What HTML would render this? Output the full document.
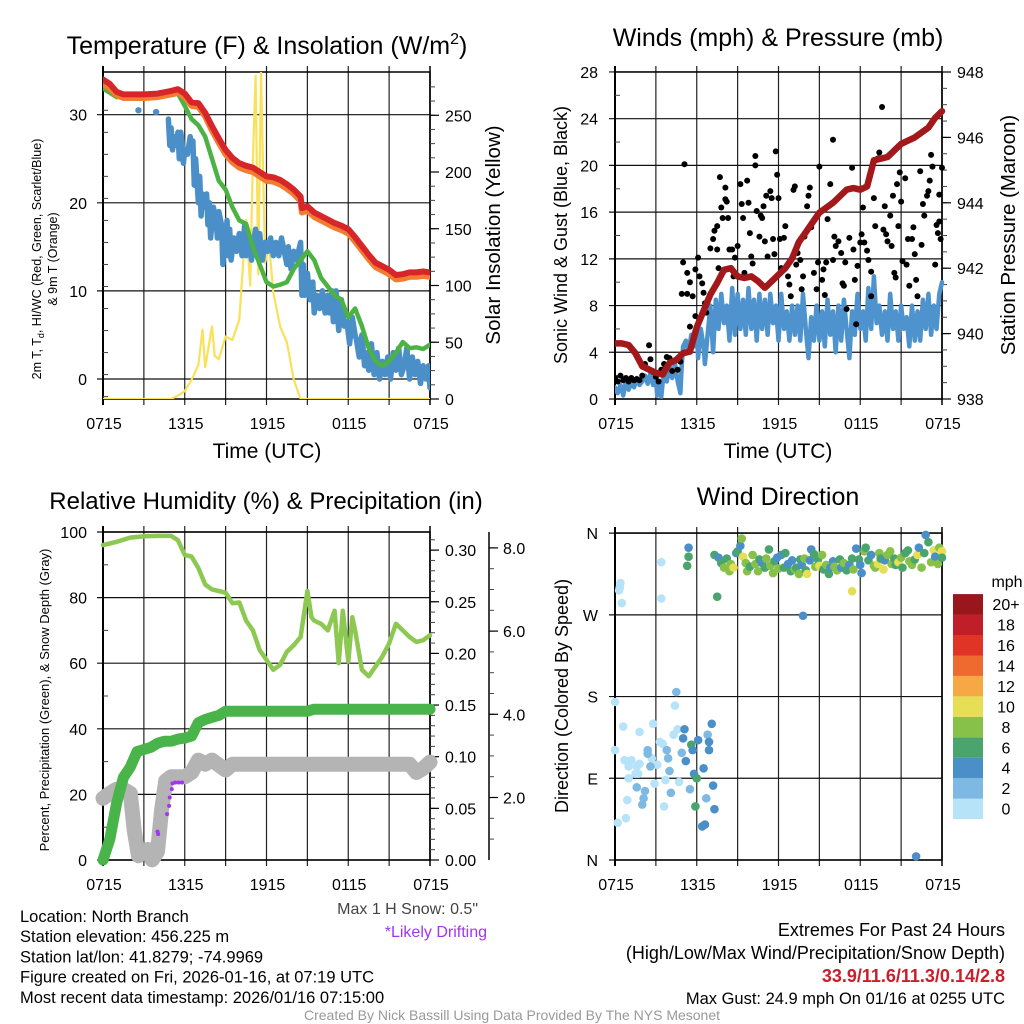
<!DOCTYPE html>
<html><head><meta charset="utf-8">
<style>
html,body{margin:0;padding:0;background:#fff;}
svg{display:block;font-family:"Liberation Sans",Arial,sans-serif;}
</style></head>
<body>
<svg id="chart" width="1024" height="1024" viewBox="0 0 1024 1024" xmlns="http://www.w3.org/2000/svg"></svg>
<script>
// ---------- DATA ----------
const tempHours = [0,0.5,1,1.5,2,3,4,5,5.5,6,6.5,7,7.5,8,8.5,9,9.5,10,10.5,11,11.5,12,12.5,13,13.5,14,14.5,14.6,15,15.5,16,16.5,17,17.5,18,18.5,19,19.5,20,20.5,21,21.5,22,22.5,23,23.5,24];
const tempRed = [34,33.5,32.6,32.3,32.3,32.3,32.4,32.7,32.9,32.4,31.4,31.3,30.2,28.7,27.3,26,25.1,24.5,24.2,24,23.5,23,22.9,22.6,22.1,21.5,20.7,19.4,19.6,18.9,18.5,18.1,17.7,17.4,17,16.1,15.1,14.1,13.2,12.8,12.4,11.8,11.9,12.1,12.1,12.2,12.1];
const tempOrange = [33.5,33,32.2,31.9,31.9,31.9,32,32.3,32.5,32,31,30.9,29.8,28.2,26.8,25.5,24.6,24,23.7,23.5,23,22.5,22.4,22.1,21.6,21,20.2,18.9,19.1,18.4,18,17.6,17.2,16.9,16.5,15.6,14.6,13.6,12.7,12.3,11.9,11.3,11.4,11.6,11.6,11.7,11.6];
const greenHours = [0,1,2,3,4,5,5.5,6,6.5,7,7.5,8,8.5,9,9.5,10,10.5,11,11.5,12,12.5,13,13.5,14,14.5,15,15.5,16,16.5,17,17.5,18,18.5,19,19.5,20,20.5,21,21.5,22,22.5,23,23.5,24];
const tempGreen = [33,32,32.1,32.1,32.1,32.2,32.4,31,29.5,28.8,27.5,25,22.5,21.5,19.5,18,17.6,15,13,11,10.5,10.7,11,12.5,13.5,14.5,13.5,11.5,10.5,9.5,9,7,8,6,3.5,2,1.5,2,3,4.2,3.5,3.6,3.4,3.9];
const blueHours = [4.8,4.9,5.0,5.1,5.2,5.4,5.5,5.6,5.7,5.8,5.9,6.0,6.2,6.4,6.5,6.6,6.7,6.8,7.0,7.1,7.2,7.3,7.4,7.6,7.7,7.8,7.9,8.1,8.3,8.4,8.5,8.7,8.8,8.9,9.0,9.1,9.2,9.3,9.4,9.6,9.8,10.0,10.2,10.4,10.5,10.7,10.9,11.0,11.2,11.4,11.5,11.7,11.9,12.1,12.3,12.5,12.7,12.9,13.1,13.3,13.5,13.6,13.8,14.0,14.2,14.5,14.6,14.7,14.8,15.0,15.2,15.4,15.5,15.7,15.9,16.1,16.3,16.5,16.6,16.8,16.9,17.1,17.3,17.5,17.7,17.9,18.1,18.3,18.5,18.6,18.8,19.0,19.2,19.4,19.5,19.7,19.9,20.1,20.3,20.5,20.7,20.9,21.1,21.3,21.5,21.7,21.9,22.1,22.3,22.5,22.7,22.9,23.1,23.3,23.5,23.7,23.9,24];
const tempBlue = [29.5,26.5,28.5,26,27.5,26.5,28,25,28,27,24.5,26,25.5,27.5,26,27,22,25,20,23,18.5,21,19.5,21,17.5,20,16,19.5,18,16,19,17.5,13,16,15,18,14,17,13.5,16,14.5,16.5,14,17.5,14,16,13.5,15,17,14,16.5,13.5,15.5,14.5,16,14,15.5,14,16,14.5,13,15,12.5,14.5,13.5,15.5,9.5,13,9.5,12,9,11,7.5,9.5,8,10,7.5,9.5,7.5,10,6.5,10,5.5,9,6,6.5,4,7,5,4.5,2.5,5,1.5,3,1,4,0.5,3,0,2,0.5,2.5,0,3,1,3.5,0.5,1.5,3.5,0,2.5,0.5,2,-0.5,1.5,0,1.5,-1];
const blueDotHours = [2.6,3.9];
const blueDotVals = [30.5,30.3];
const insolHours = [0,5,5.5,6,6.5,7,7.3,7.5,8,8.2,8.5,9,9.5,10,10.5,10.8,11,11.2,11.4,11.6,11.9,12.2,12.5,13,13.5,14,14.5,24];
const insolVals = [0,0,3,7,17,30,61,28,64,38,35,55,52,70,158,100,211,285,110,288,120,135,94,64,50,17,0,0];

const windHours = [0,0.2,0.4,0.6,0.8,1.0,1.2,1.4,1.6,1.8,2.0,2.2,2.4,2.6,2.8,3.0,3.1,3.3,3.4,3.6,3.8,4.0,4.2,4.4,4.6,4.8,4.9,5.0,5.2,5.4,5.6,5.8,6.0,6.1,6.3,6.5,6.6,6.8,7.0,7.2,7.4,7.6,7.8,8.0,8.2,8.4,8.6,8.8,9.0,9.2,9.4,9.6,9.8,10.0,10.2,10.4,10.6,10.8,11.0,11.2,11.4,11.6,11.8,12.0,12.2,12.4,12.6,12.8,13.0,13.2,13.4,13.6,13.8,14.0,14.2,14.4,14.6,14.8,15.0,15.2,15.4,15.6,15.8,16.0,16.2,16.4,16.6,16.8,17.0,17.2,17.4,17.6,17.8,18.0,18.2,18.4,18.6,18.8,19.0,19.2,19.4,19.6,19.8,20.0,20.2,20.4,20.6,20.8,21.0,21.2,21.4,21.6,21.8,22.0,22.2,22.4,22.6,22.8,23.0,23.2,23.4,23.6,23.8,24];
const windVals = [1,0.5,1.2,0.3,1.5,0.8,1.4,1.0,1.8,1.2,1.5,2.0,1.3,2.2,1.2,1.8,0.3,1.5,0.2,2.6,1.5,2.8,1.8,3.0,1.5,0.5,3,4.5,5,4,5.5,4.5,6,3.5,6,4.5,3,5.5,8,4,8.5,6,9,6.5,8,5,9.5,5.5,9,6,8.5,5.5,9.5,6,8.5,5,9,6,8.5,5.5,9,6.5,8,5,9,6,7.5,5,8,5.5,8,5,9,6,3.5,7,5,8,5,7.5,4.5,8.5,5.5,7.5,4,8,5,8.5,6,3.5,7.5,5.5,9,6,7.5,5,9.5,6,10.5,6.5,8,5.5,7.5,5,9,6,7.5,5,8,6,7,4.5,8,5,7.5,5,8.5,6,9,5.5,8,6,9,10];
const gustHours = [0.0,0.2,0.4,0.6,0.8,1.0,1.2,1.4,1.6,1.8,2.0,2.2,2.4,2.5,2.6,2.8,3.0,3.2,3.4,3.6,3.8,4.0,4.2,4.4,4.6,4.8,5.1,5.0,5.3,5.5,4.9,5.3,5.7,5.5,5.9,5.9,6.1,6.2,6.4,6.5,6.6,6.7,7.0,7.2,7.3,7.5,7.5,7.6,7.7,7.8,7.9,8.1,8.1,8.2,8.3,8.4,8.6,8.7,8.8,9.0,9.2,9.3,9.4,9.5,9.7,9.8,9.9,10.0,10.1,10.3,10.3,10.4,10.6,10.7,10.8,10.9,11.0,11.1,11.2,11.4,11.5,11.6,11.7,11.8,11.9,12.0,12.1,12.2,12.4,12.5,12.7,12.8,12.9,13.1,13.2,13.3,13.4,13.6,13.7,13.8,13.9,14.1,14.2,14.3,14.4,14.6,14.8,14.9,15.0,15.2,15.3,15.4,15.5,15.6,15.8,16.0,16.0,16.1,16.2,16.4,16.6,16.7,16.8,16.9,17.0,17.2,17.4,17.5,17.6,17.7,17.8,18.0,18.1,18.2,18.3,18.5,18.6,18.8,18.8,19.0,19.1,19.3,19.4,19.6,19.7,19.8,19.9,20.0,20.2,20.3,20.4,20.5,20.6,20.7,20.8,20.9,21.0,21.1,21.3,21.4,21.5,21.6,21.8,21.9,22.0,22.1,22.2,22.4,22.5,22.6,22.7,22.9,23.0,23.1,23.2,23.3,23.5,23.6,23.7,23.8,23.8,23.9,24.0];
const gustVals = [1.8,1.5,2,1.6,1.8,1.5,1.8,1.6,1.7,1.6,2.0,3.0,2.6,4.6,3.4,2.3,1.9,1.5,2.5,3.0,3.6,3.5,2.4,3.3,2.5,3.2,20.1,11.7,10.8,10,9,9,8.8,6.2,7.1,11.1,12.1,10.5,9.9,9.1,8.2,7.4,12.9,13.7,14.4,12.8,14.8,11.2,19,16.4,15.5,17.1,18.1,16.9,15.5,12.8,12.8,10.5,12.1,13.1,18.4,16.7,15.5,10.8,18.7,16.8,14.2,12.2,11.6,20.8,20,16.1,13.9,15.7,15.5,16.5,13.5,17.4,12.2,17.8,17.2,13.7,12.4,21.2,19.2,17.2,13.7,11.2,13.8,14.8,10.5,9.8,8.8,17.9,18.2,11.5,12.5,11.9,9.4,10.5,13.9,16.5,17.4,18.1,14.7,10.8,9.4,11.7,19.9,10.2,11.1,8.9,11.7,15.4,18.4,22.2,11.9,13.9,13.1,13.5,12.5,9.9,9.7,11.7,7.7,13.8,19.8,12.8,10.2,6.4,11.4,13.4,14.1,16.4,13.4,12.7,11.9,10.9,8.8,17.2,14.8,20.6,21.1,25,14.5,16.5,14.1,13.5,15.7,13.1,17.4,10.8,10.4,18.4,14.8,19.4,16.9,11.8,18.9,11.5,13.7,9.7,13.7,14.7,12.4,10.2,8.8,19.5,13.2,16.7,15.7,17.4,17.8,18.7,20.9,19.9,11.5,14.9,14.2,17.5,15.2,13.7,19.8];
const presHours = [0,0.5,1,1.5,2,2.5,3,3.5,4,4.5,5,5.5,6,6.5,7,7.5,8,8.5,9,9.5,10,10.5,11,11.5,12,12.5,13,13.5,14,14.5,15,15.5,16,16.5,17,17.5,18,18.5,19,19.5,20,20.5,21,21.5,22,22.5,23,23.5,24];
const presVals = [939.7,939.7,939.65,939.4,939.0,938.9,938.8,938.75,939.1,939.2,939.4,939.45,940.2,940.7,941.2,941.55,941.95,942.0,941.75,941.7,941.75,941.6,941.4,941.6,941.8,942.0,942.3,942.8,943.1,943.4,943.7,943.85,944.0,944.2,944.4,944.45,944.4,944.5,945.3,945.35,945.4,945.6,945.8,945.9,946.0,946.15,946.3,946.6,946.8];

const rhHours = [0,0.5,1,2,3,4,5,5.5,6,6.5,7,7.5,8,8.5,9,9.5,10,10.5,11,11.5,12,12.5,13,13.5,14,14.5,15,15.3,15.5,16,16.5,17,17.3,17.6,18,18.3,18.5,19,19.5,20,20.5,21,21.5,22,22.5,23,23.5,24];
const rhVals = [96,96.5,97,98.3,98.7,98.8,98.8,97.5,93,92.5,89,84,82.5,82,81.5,78.3,78.5,73,70,64,61,58,59.5,63.5,65.5,68,82,74,73,72,70,76,60,76,60.5,74,70,58,56,59,62,66,72,70,68,66.5,67,68.5];
const precipHours = [0,0.5,1,1.5,2,2.5,3,3.5,4,4.5,5,5.5,6,6.5,7,7.5,8,8.5,9,15,15.5,24];
const precipVals = [0,0.02,0.055,0.08,0.09,0.105,0.107,0.109,0.113,0.115,0.115,0.117,0.118,0.12,0.133,0.136,0.138,0.14,0.144,0.144,0.146,0.146];
const snowHours = [0,0.5,1,1.5,2,2.3,2.6,3,3.3,3.6,4,4.3,4.6,5,6,6.5,7,7.5,8,9,9.5,22.5,23,23.5,24];
const snowVals = [1.98,2.1,2.2,2.2,2.1,1.2,0.6,0.7,0.75,0.5,0.7,1.7,2.4,2.5,2.5,2.6,2.9,2.8,2.9,2.66,2.8,2.8,2.6,2.7,2.85];
const driftHours = [4.0,4.05,4.7,4.85,4.9,5.05,5.1,5.3,5.55,5.8];
const driftVals = [1.18,1.12,1.6,1.8,2.0,2.2,2.34,2.36,2.36,2.36];

const dirHours = [0.4,0.3,0.35,0.5,3.4,3.4,0.0,0.6,1.8,2.8,0.0,0.7,1.2,1.0,1.6,1.8,1.5,1.0,1.7,0.9,0.8,0.2,2.2,2.1,2.0,1.6,2.9,3.1,2.7,2.4,2.4,2.6,3.3,3.5,3.6,4.1,3.7,4.0,3.9,3.8,4.3,4.4,4.5,4.6,4.7,4.9,5.1,5.0,5.2,5.5,5.6,5.7,5.8,5.9,6.0,6.1,6.4,6.6,6.5,6.7,6.8,6.9,6.9,7.1,7.2,7.3,5.4,5.4,5.3,22.1,13.8,7.5,17.4,7.3,7.6,7.8,8.0,8.2,8.4,8.5,8.7,8.9,9.0,9.2,9.3,9.4,9.6,9.7,9.9,10.1,10.3,10.5,10.6,10.8,11.0,11.1,11.3,11.4,11.6,11.7,11.9,12.0,12.2,12.4,12.5,12.7,12.9,13.0,13.2,13.3,13.5,13.6,13.7,13.9,14.0,14.1,14.3,14.4,14.6,14.7,14.9,15.0,15.2,15.3,15.5,15.7,15.8,16.0,16.1,16.3,16.5,16.6,16.8,17.0,17.2,17.4,17.5,17.7,17.9,18.0,18.1,18.3,18.4,18.6,18.8,19.0,19.1,19.3,19.4,19.5,19.7,19.8,20.0,20.2,20.3,20.5,20.6,20.8,21.0,21.1,21.3,21.5,21.6,21.8,22.0,22.2,22.3,22.5,22.7,22.8,23.0,23.2,23.4,23.5,23.7,23.8,24.0,24.0];
const dirDegs = [305,297,300,283,328,288,174,147,141,150,121,110,110,103,103,106,95,90,95,66,46,41,76,68,61,80,84,105,112,121,117,103,130,128,59,74,88,98,112,121,138,170,185,144,86,118,144,134,109,78,127,121,95,59,90,132,37,39,101,68,138,130,121,150,82,56,344,334,324,4,269,290,296,336,333,327,322,332,318,326,322,338,340,346,354,334,327,318,323,336,326,318,331,327,322,332,342,324,316,329,333,321,336,322,338,326,318,330,320,322,315,331,325,332,319,315,330,342,337,323,331,324,336,320,325,315,322,329,323,319,331,322,327,319,325,332,320,343,331,325,316,340,344,330,336,324,322,326,338,332,320,330,336,340,326,332,325,328,333,322,338,341,329,325,331,336,344,322,338,358,350,328,341,334,326,344,340,333];
const dirSpeeds = [0,0,0,0,0,0,0,0,0,0,0,0,0,0,0,0,0,0,0,0,0,0,2,2,2,2,0,0,0,2,2,2,0,0,0,2,0,2,2,2,0,0,2,0,0,2,4,4,4,2,6,4,4,6,6,4,4,4,4,2,2,4,4,4,4,4,4,6,6,4,4,6,10,6,4,6,8,6,8,8,10,4,6,4,8,10,8,8,6,8,8,8,6,4,6,8,6,8,8,6,4,8,4,6,6,4,6,4,8,6,8,6,4,8,6,10,4,4,6,8,6,10,8,6,8,6,4,4,8,8,6,4,8,6,4,6,8,4,6,4,4,8,6,6,4,8,8,10,8,6,10,4,8,8,8,6,6,10,8,6,6,6,8,8,6,10,4,8,6,4,6,8,10,4,8,8,10,6];
const speedBins = ["0","2","4","6","8","10","12","14","16","18","20+"];
const speedColors = ["#b6e3f8","#7db9e3","#4a8fc8","#49a56d","#87c14a","#e6df55","#f6a845","#ee6a2f","#e03427","#c01f29","#98161c"];

const tempTicks = [0,10,20,30];
const insolTicks = [0,50,100,150,200,250];
const mphTicks = [0,4,8,12,16,20,24,28];
const presTicks = [938,940,942,944,946,948];
const pctTicks = [0,20,40,60,80,100];
const precipTicks = [0,0.05,0.10,0.15,0.20,0.25,0.30];
const snowTicks = [2,4,6,8];
const dirTicks = [0,90,180,270,360];
const dirLabels = ["N","E","S","W","N"];
const timeLabels = ["0715","1315","1915","0115","0715"];

// ---------- HELPERS ----------
const NS = "http://www.w3.org/2000/svg";
const svg = document.getElementById("chart");
const TK = 16; // tick font size
function mk(tag, attrs, parent, text){
  const e = document.createElementNS(NS, tag);
  for (const k in attrs) e.setAttribute(k, attrs[k]);
  if (text !== undefined) e.textContent = text;
  (parent||svg).appendChild(e);
  return e;
}
function grp(name){
  const g = mk("g", {});
  
  
  return g;
}
function txt(g, x, y, s, size, anchor, extra){
  const a = {x:x, y:y, "font-size":size, "text-anchor":anchor||"middle", fill:"#000"};
  if (extra) for (const k in extra) a[k]=extra[k];
  return mk("text", a, g, s);
}
function path(g, pts, stroke, w){
  let d = "";
  pts.forEach((p,i)=>{ d += (i? "L":"M") + p[0].toFixed(1) + "," + p[1].toFixed(1); });
  return mk("path", {d:d, fill:"none", stroke:stroke, "stroke-width":w, "stroke-linejoin":"round", "stroke-linecap":"round"}, g);
}
function makeX(x0,x1){ return h => x0 + h*(x1-x0)/24; }

function frame(g, x0, x1, y0, y1, hTicks, yfn){
  const X = makeX(x0,x1);
  for (let h=3; h<24; h+=3) mk("line",{x1:X(h),x2:X(h),y1:y0-6,y2:y1+6,stroke:"#222","stroke-width":1.2},g);
  hTicks.forEach(v=>{ const y=yfn(v); mk("line",{x1:x0-6,x2:x1,y1:y,y2:y,stroke:"#111","stroke-width":1.2},g); });
  mk("rect",{x:x0,y:y0,width:x1-x0,height:y1-y0,fill:"none",stroke:"#000","stroke-width":1.5},g);
  mk("line",{x1:x0,x2:x0,y1:y0-6,y2:y1+6,stroke:"#000","stroke-width":2},g);
  mk("line",{x1:x1,x2:x1,y1:y0-6,y2:y1+6,stroke:"#000","stroke-width":1.5},g);
  timeLabels.forEach((s,i)=>{ txt(g, X(i*6)+1, y1+30, s, TK); });
}
function rightAxis(g, x, ticks, yfn, fmt, minorStep, lo, hi){
  for (let v=lo; v<=hi+1e-9; v+=minorStep){ const y=yfn(v); mk("line",{x1:x,x2:x+5,y1:y,y2:y,stroke:"#444","stroke-width":1},g); }
  ticks.forEach(v=>{ const y=yfn(v); mk("line",{x1:x,x2:x+9,y1:y,y2:y,stroke:"#000","stroke-width":1.2},g); txt(g, x+15, y+6, fmt(v), TK, "start"); });
}

// ---------- PANEL 1 ----------
(function(){
  const x0=103,x1=430,y0=72,y1=399;
  const X=makeX(x0,x1), T=t=>379-t*8.81, I=v=>399-v*1.135;
  const g=grp("temperature-panel");
  frame(g,x0,x1,y0,y1,tempTicks,T);
  for (let v=-2; v<=35; v+=2.5){ const y=T(v); if(y>y0&&y<y1) mk("line",{x1:x0,x2:x0+5,y1:y,y2:y,stroke:"#444"},g); }
  tempTicks.forEach(v=>txt(g,87,T(v)+6,String(v),TK,"end"));
  rightAxis(g,x1,insolTicks,I,v=>String(v),12.5,0,275);
  const tt = txt(g,267,54,"Temperature (F) & Insolation (W/m",25);
  
  mk("tspan",{"font-size":16,dy:-10},tt,"2"); mk("tspan",{"font-size":25,dy:10},tt,")");
  txt(g,267,458,"Time (UTC)",21);
  const yl = mk("g",{transform:"translate(0,259) rotate(-90)"},g);
  
  const l1 = txt(yl,0,41,"2m T, T",12.5); mk("tspan",{"font-size":9,dy:3},l1,"d"); mk("tspan",{dy:-3},l1,", HI/WC (Red, Green, Scarlet/Blue)");
  txt(yl,0,57,"& 9m T (Orange)",12.5);
  txt(mk("g",{transform:"translate(500,235) rotate(-90)"},g),0,0,"Solar Insolation (Yellow)",20.5);
  const cp = mk("clipPath",{id:"c1"}); mk("rect",{x:x0,y:y0,width:x1-x0,height:y1-y0},cp);
  const s = mk("g",{"clip-path":"url(#c1)"},g);
  let p;
  p=path(s, insolHours.map((h,i)=>[X(h),I(insolVals[i])]), "#f9e15a", 2.2); 
  p=path(s, blueHours.map((h,i)=>[X(h),T(tempBlue[i])]), "#4a8fc8", 5.5); 
  blueDotHours.forEach((h,i)=>{ const c=mk("circle",{cx:X(h),cy:T(blueDotVals[i]),r:3.2,fill:"#4a8fc8"},s);  });
  p=path(s, greenHours.map((h,i)=>[X(h),T(tempGreen[i])]), "#4cb243", 4.5); 
  p=path(s, tempHours.map((h,i)=>[X(h),T(tempOrange[i])]), "#f47c30", 6); 
  p=path(s, tempHours.map((h,i)=>[X(h),T(tempRed[i])]), "#d6262a", 6); 
})();

// ---------- PANEL 2 ----------
(function(){
  const x0=615,x1=942,y0=72,y1=399;
  const X=makeX(x0,x1), M=m=>399-m*11.68, P=p=>399-(p-938)*32.7;
  const g=grp("wind-panel");
  frame(g,x0,x1,y0,y1,mphTicks,M);
  for (let v=2; v<28; v+=4) mk("line",{x1:x0,x2:x0+5,y1:M(v),y2:M(v),stroke:"#444"},g);
  mphTicks.forEach(v=>txt(g,598,M(v)+6,String(v),TK,"end"));
  rightAxis(g,x1,presTicks,P,v=>String(v),0.5,938,948);
  txt(g,778,46,"Winds (mph) & Pressure (mb)",25);
  txt(g,778,458,"Time (UTC)",21);
  txt(mk("g",{transform:"translate(567,235) rotate(-90)"},g),0,0,"Sonic Wind & Gust (Blue, Black)",18);
  txt(mk("g",{transform:"translate(1015,235) rotate(-90)"},g),0,0,"Station Pressure (Maroon)",20.5);
  const cp = mk("clipPath",{id:"c2"}); mk("rect",{x:x0,y:y0,width:x1-x0+4,height:y1-y0},cp);
  const s = mk("g",{"clip-path":"url(#c2)"},g);
  let p=path(s, windHours.map((h,i)=>[X(h),M(windVals[i])]), "#4f93ce", 4.5); 
  gustHours.forEach((h,i)=>{ const c=mk("circle",{cx:X(h),cy:M(gustVals[i]),r:3,fill:"#000"},s);  });
  p=path(s, presHours.map((h,i)=>[X(h),P(presVals[i])]), "#a3191b", 6.5); 
})();

// ---------- PANEL 3 ----------
(function(){
  const x0=103,x1=430,y0=532,y1=860;
  const X=makeX(x0,x1), R=v=>860-v*3.28, Pr=v=>860-v*1033, S=v=>880.7-v*41.6;
  const g=grp("humidity-panel");
  frame(g,x0,x1,y0,y1,pctTicks,R);
  for (let v=10; v<100; v+=20) mk("line",{x1:x0,x2:x0+5,y1:R(v),y2:R(v),stroke:"#444"},g);
  pctTicks.forEach(v=>txt(g,87,R(v)+6,String(v),TK,"end"));
  rightAxis(g,x1,precipTicks,Pr,v=>v.toFixed(2),0.01,0,0.31);
  mk("line",{x1:489,x2:489,y1:532,y2:860,stroke:"#000","stroke-width":1.5},g);
  for (let v=1; v<=8.5; v+=0.5){ const y=S(v); if(y>=532&&y<=860) mk("line",{x1:489,x2:494,y1:y,y2:y,stroke:"#444"},g); }
  snowTicks.forEach(v=>{ mk("line",{x1:489,x2:498,y1:S(v),y2:S(v),stroke:"#000","stroke-width":1.2},g); txt(g,503,S(v)+6,v.toFixed(1),TK,"start"); });
  txt(g,266,509,"Relative Humidity (%) & Precipitation (in)",24);
  txt(mk("g",{transform:"translate(49,700) rotate(-90)"},g),0,0,"Percent, Precipitation (Green), & Snow Depth (Gray)",13);
  const cp = mk("clipPath",{id:"c3"}); mk("rect",{x:x0-10,y:y0,width:x1-x0+20,height:y1-y0+10},cp);
  const s = mk("g",{"clip-path":"url(#c3)"},g);
  let p=path(s, snowHours.map((h,i)=>[X(h),S(snowVals[i])]), "#b4b4b4", 15); 
  p=path(s, precipHours.map((h,i)=>[X(h),Pr(precipVals[i])]), "#49b449", 11); 
  p=path(s, rhHours.map((h,i)=>[X(h),R(rhVals[i])]), "#8dc952", 4.5); 
  driftHours.forEach((h,i)=>{ const c=mk("circle",{cx:X(h),cy:S(driftVals[i]),r:2,fill:"#a335f0"},s);  });
})();

// ---------- PANEL 4 ----------
(function(){
  const x0=615,x1=942,y0=533,y1=860;
  const X=makeX(x0,x1), D=d=>860-d*0.908;
  const g=grp("wind-direction-panel");
  frame(g,x0,x1,y0,y1,dirTicks,D);
  dirTicks.forEach((v,i)=>txt(g,598,D(v)+6,dirLabels[i],TK,"end"));
  txt(g,778,505,"Wind Direction",25);
  txt(mk("g",{transform:"translate(568,696) rotate(-90)"},g),0,0,"Direction (Colored By Speed)",18);
  dirHours.forEach((h,i)=>{
    const bin=Math.min(10,Math.floor(dirSpeeds[i]/2));
    const c=mk("circle",{cx:X(h),cy:D(dirDegs[i]),r:4.3,fill:speedColors[bin]},g);
    
  });
  const lg=grp("speed-colorbar");
  txt(lg,1007,587,"mph",16);
  speedBins.forEach((s,i)=>{
    const y=798.6-i*20.45;
    const r=mk("rect",{x:953,y:y,width:30,height:20.5,fill:speedColors[i]},lg);
    
    txt(lg,1006,y+16,s,16);
  });
})();

// ---------- FOOTER TEXT ----------
(function(){
  const g=grp("station-info");
  const lines=["Location: North Branch","Station elevation: 456.225 m","Station lat/lon: 41.8279; -74.9969","Figure created on Fri, 2026-01-16, at 07:19 UTC","Most recent data timestamp: 2026/01/16 07:15:00"];
  lines.forEach((s,i)=>txt(g,20,922+i*20.2,s,16.5,"start"));
  txt(g,478,914,"Max 1 H Snow: 0.5\"",16,"end",{fill:"#444"});
  txt(g,487,937,"*Likely Drifting",16,"end",{fill:"#a335f0"});
  const e=grp("extremes-info");
  txt(e,1005,936,"Extremes For Past 24 Hours",18,"end");
  txt(e,1005,959,"(High/Low/Max Wind/Precipitation/Snow Depth)",18,"end");
  txt(e,1005,982,"33.9/11.6/11.3/0.14/2.8",18,"end",{fill:"#c8202a","font-weight":"bold"});
  txt(e,1005,1004,"Max Gust: 24.9 mph On 01/16 at 0255 UTC",16.5,"end");
  txt(svg,512,1020,"Created By Nick Bassill Using Data Provided By The NYS Mesonet",14,"middle",{fill:"#999"});
})();
</script>
</body></html>
